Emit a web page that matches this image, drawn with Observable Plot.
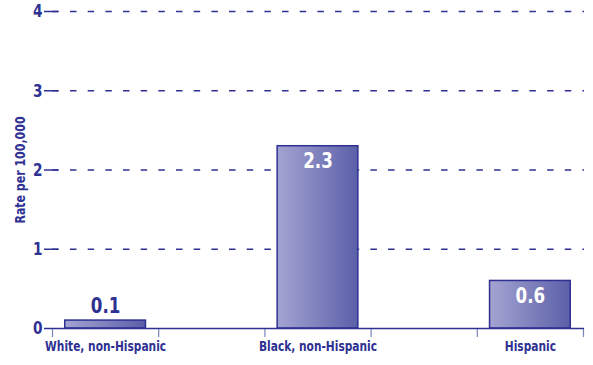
<!DOCTYPE html>
<html>
<head>
<meta charset="utf-8">
<script src="https://cdn.jsdelivr.net/npm/d3@7"></script>
<script src="https://cdn.jsdelivr.net/npm/@observablehq/plot@0.6"></script>
<style>
  html, body { margin: 0; padding: 0; background: #fff; }
</style>
</head>
<body>
<div id="chart"></div>
<script>
const categories = ["White, non-Hispanic", "Black, non-Hispanic", "Hispanic"];
const rates = [0.1, 2.3, 0.6];
const yTicks = [0, 1, 2, 3, 4];
const slots = [0, 2, 4];            // category slot on a 5-slot axis
const separators = [0, 1, 2, 3, 4, 5];
const yTitle = "Rate per 100,000";

const navy = "#2e3192";
const font = "'DejaVu Sans', sans-serif";

const data = categories.map((c, i) => ({category: c, rate: rates[i], slot: slots[i]}));
const inside = d => d.rate > 0.3;

const chart = Plot.plot({
  width: 593,
  height: 365,
  marginTop: 11,
  marginBottom: 37,
  marginLeft: 44,
  marginRight: 9,
  style: {fontFamily: font, color: navy, background: "#fff", overflow: "visible"},
  x: {domain: [0, 5], range: [52, 583]},
  y: {domain: [0, 4]},
  marks: [
    Plot.ruleY(yTicks.filter(t => t > 0), {stroke: navy, strokeWidth: 1.5, strokeDasharray: "6.5,11.17", strokeDashoffset: 9.34}),
    Plot.ruleY(yTicks.filter(t => t > 0), {stroke: navy, strokeWidth: 1.5, strokeDasharray: "14,2000"}),
    Plot.axisY({ticks: yTicks, tickSize: 0, tickPadding: 2, fontSize: 18, fontWeight: "bold", tickFormat: d => String(d), label: null}),
    Plot.axisX({ticks: separators, tickSize: 9, tickFormat: () => "", stroke: "#7d84bd", strokeWidth: 1.2, label: null}),
    Plot.rectY(data, {x1: d => d.slot + 0.12, x2: d => d.slot + 0.88, y: "rate", fill: "url(#barGrad)", stroke: navy, strokeWidth: 1.5}),
    Plot.ruleY([0], {stroke: navy, strokeWidth: 1.5}),
    Plot.text(data.filter(inside), {x: d => d.slot + 0.5, y: "rate", text: d => d.rate.toFixed(1), dy: 15, fill: "#fff", fontSize: 22, fontWeight: "bold"}),
    Plot.text(data.filter(d => !inside(d)), {x: d => d.slot + 0.5, y: "rate", text: d => d.rate.toFixed(1), dy: -15, fill: navy, fontSize: 22, fontWeight: "bold"}),
    Plot.text(data, {x: d => d.slot + 0.5, frameAnchor: "bottom", text: "category", dy: 22, fill: navy, fontSize: 14, fontWeight: "bold"}),
    Plot.text([yTitle], {frameAnchor: "left", textAnchor: "middle", text: d => d, dx: -24, rotate: -90, fill: navy, fontSize: 14.5, fontWeight: "bold"})
  ]
});

const svg = d3.select(chart);
const grad = svg.insert("defs", ":first-child").append("linearGradient")
  .attr("id", "barGrad").attr("x1", "0").attr("x2", "1").attr("y1", "0").attr("y2", "0");
grad.append("stop").attr("offset", "0%").attr("stop-color", "#a4a4d2");
grad.append("stop").attr("offset", "100%").attr("stop-color", "#5b5fa8");

// condensed look: compress every label along its reading direction, around its anchor
chart.querySelectorAll("text").forEach(t => {
  const ax = parseFloat(t.getAttribute("x")) || 0;
  const ay = parseFloat(t.getAttribute("y")) || 0;
  const tr = t.getAttribute("transform") || "";
  t.setAttribute("transform", `${tr} translate(${ax},${ay}) scale(0.76,1) translate(${-ax},${-ay})`.trim());
});

document.getElementById("chart").appendChild(chart);
</script>
</body>
</html>
